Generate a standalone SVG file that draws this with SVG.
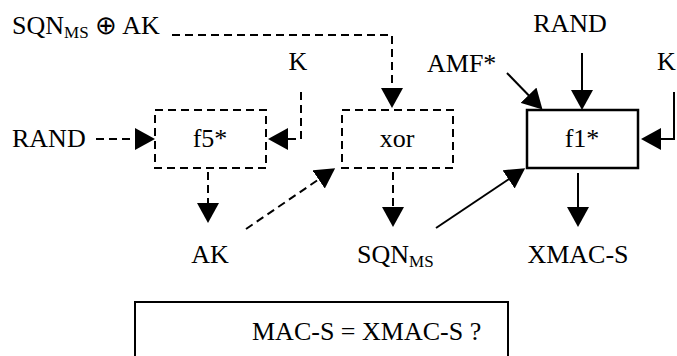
<svg xmlns="http://www.w3.org/2000/svg" width="677" height="356" viewBox="0 0 677 356">
<defs>
<marker id="ah" viewBox="0 0 20 22" refX="15" refY="11" markerWidth="20" markerHeight="22" markerUnits="userSpaceOnUse" orient="auto">
<path d="M0,0 L20,11 L0,22 z" fill="#000"/>
</marker>
<style>
text{font-family:"Liberation Serif","Times New Roman",serif;font-size:26px;fill:#000}
.mid{text-anchor:middle}
.box{fill:#fff;stroke:#000;stroke-width:2}
.dbox{fill:#fff;stroke:#000;stroke-width:2;stroke-dasharray:8,5}
.sbox{fill:#fff;stroke:#000;stroke-width:2.5}
.c{fill:none;stroke:#000;stroke-width:2;marker-end:url(#ah)}
.d{stroke-dasharray:8,5}
.sub{font-size:17px}
</style>
</defs>
<rect width="677" height="356" fill="#fff"/>
<g id="f5"><rect class="dbox" x="155" y="110" width="111" height="58"/><text class="mid" x="210" y="147">f5*</text></g>
<g id="xor"><rect class="dbox" x="342" y="110" width="111" height="58"/><text class="mid" x="397" y="147">xor</text></g>
<g id="f1"><rect class="sbox" x="527" y="110" width="111" height="58"/><text class="mid" x="582" y="147">f1*</text></g>
<g id="compare"><rect class="box" x="135" y="302" width="373" height="80"/><text x="252" y="340">MAC-S = XMAC-S ?</text></g>
<g id="sqnak"><text x="12" y="34">SQN<tspan class="sub" dy="4">MS</tspan><tspan dy="-4"> ⊕ AK</tspan></text></g>
<g id="k1"><text class="mid" x="298" y="70">K</text></g>
<g id="rand1"><text x="12" y="147">RAND</text></g>
<g id="ak"><text class="mid" x="210" y="263">AK</text></g>
<g id="sqn"><text x="357" y="263">SQN<tspan class="sub" dy="4">MS</tspan></text></g>
<g id="amf"><text x="427" y="72">AMF*</text></g>
<g id="rand2"><text class="mid" x="570" y="32">RAND</text></g>
<g id="k2"><text x="657" y="70">K</text></g>
<g id="xmac"><text class="mid" x="578" y="263">XMAC-S</text></g>
<g id="connectors">
<path class="c d" d="M172,35 H392 V103"/>
<path class="c d" d="M301,92 V139 H273"/>
<path class="c d" d="M96,139 H150"/>
<path class="c d" d="M208,172 V218"/>
<path class="c d" d="M246,229 L331,171"/>
<path class="c d" d="M393,172 V222"/>
<path class="c" d="M436,228 L521,171"/>
<path class="c" d="M507,73 L539,106"/>
<path class="c" d="M582,53 V105"/>
<path class="c" d="M674,92 V139 H646"/>
<path class="c" d="M578,173 V222"/>
</g>
</svg>
